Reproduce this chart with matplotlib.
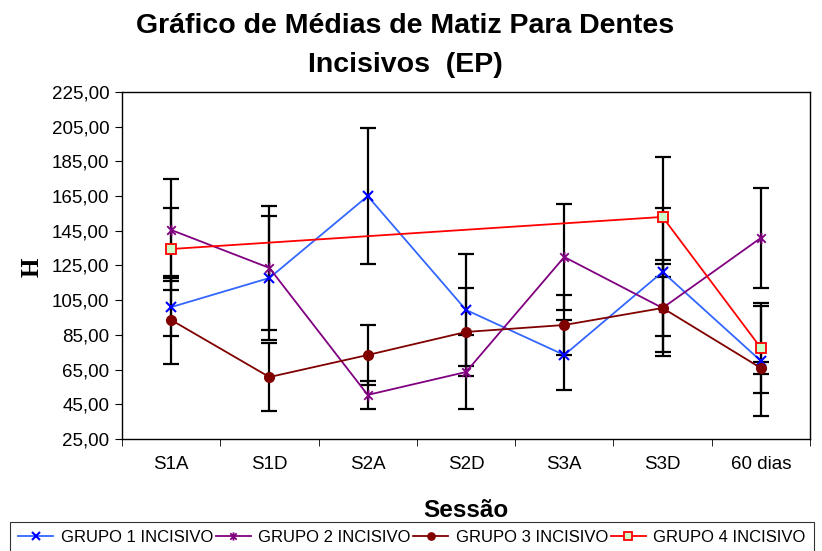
import numpy as np
import matplotlib.pyplot as plt
from matplotlib.path import Path

plt.rcParams['font.family'] = ['Liberation Sans', 'DejaVu Sans']

sessoes = ["S1A", "S1D", "S2A", "S2D", "S3A", "S3D", "60 dias"]

# medias por grupo
g1_media = [101.0, 117.8, 165.0, 99.4, 73.4, 121.3, 70.0]
g2_media = [145.5, 123.6, 50.4, 63.6, 129.9, 100.5, 140.9]
g3_media = [93.6, 60.7, 73.4, 86.7, 90.7, 100.5, 65.9]
g4_media = [134.5, np.nan, np.nan, np.nan, np.nan, 153.0, 77.5]

# erro padrao (EP)
g1_ep = [16.8, 35.7, 39.4, 32.2, 20.2, 37.0, 31.5]
g2_ep = [29.5, 35.5, 8.3, 21.5, 30.7, 27.7, 28.6]
g3_ep = [25.2, 19.6, 17.5, 25.5, 17.5, 25.5, 3.5]
g4_ep = [23.8, np.nan, np.nan, np.nan, np.nan, 34.4, 26.0]

# asterisco estilo excel: x com linha vertical
star = Path([(-1, -1), (1, 1), (-1, 1), (1, -1), (0, -1.3), (0, 1.3)],
            [Path.MOVETO, Path.LINETO, Path.MOVETO, Path.LINETO, Path.MOVETO, Path.LINETO])

grupos = [
    ("GRUPO 1 INCISIVO", g1_media, g1_ep, dict(color="#3366FF", marker="x", ms=7, mec="#0000FF", mew=1.5, mfc="#0000FF")),
    ("GRUPO 2 INCISIVO", g2_media, g2_ep, dict(color="#800080", marker=star, ms=8, mec="#800080", mew=1.3)),
    ("GRUPO 3 INCISIVO", g3_media, g3_ep, dict(color="#800000", marker="o", ms=7, mec="#800000", mfc="#800000")),
    ("GRUPO 4 INCISIVO", g4_media, g4_ep, dict(color="#FF0000", marker="s", ms=7, mec="#FF0000", mfc="#CCFFCC", mew=1.3)),
]

fig = plt.figure(figsize=(8.22, 5.51), dpi=100)
ax = fig.add_axes([0.1484, 0.2033, 0.837, 0.6297])

xs = np.arange(len(sessoes))
for nome, media, ep, estilo in grupos:
    m = np.array(media, dtype=float)
    e = np.array(ep, dtype=float)
    ok = ~np.isnan(m)
    ax.errorbar(xs[ok], m[ok], yerr=e[ok], fmt="none", ecolor="black",
                elinewidth=1.6, capsize=5.5, capthick=1.6, zorder=2)
    ax.plot(xs[ok], m[ok], lw=1.3, label=nome, zorder=3, **estilo)

ax.set_xlim(-0.5, len(sessoes) - 0.5)
ax.set_ylim(25, 225)
yt = np.arange(25, 226, 20)
ax.set_yticks(yt)
ax.set_yticklabels([f"{v:.2f}".replace(".", ",") for v in yt], fontsize=13.5)
ax.set_xticks(xs)
ax.set_xticklabels(sessoes, fontsize=13.5)
ax.set_xticks(np.arange(-0.5, len(sessoes)), minor=True)
ax.tick_params(axis="x", which="major", length=0, pad=12)
ax.tick_params(axis="x", which="minor", length=5, direction="out")
ax.tick_params(axis="y", length=5, direction="out", pad=4)
for s in ax.spines.values():
    s.set_linewidth(1.0)

ax.set_xlabel("Sessão", fontsize=17.5, fontweight="bold", va="center")
ax.xaxis.set_label_coords(0.5, -0.205)
ax.set_ylabel("H", fontsize=18, fontweight="bold", family=["Liberation Serif", "DejaVu Serif"], va="center")
ax.yaxis.set_label_coords(-0.13, 0.496)

fig.text(0.493, 1 - 26 / 551, "Gráfico de Médias de Matiz Para Dentes", ha="center", va="center",
         fontsize=20.5, fontweight="bold")
fig.text(0.493, 1 - 65 / 551, "Incisivos  (EP)", ha="center", va="center",
         fontsize=20.5, fontweight="bold")

leg = fig.legend(loc="upper left", bbox_to_anchor=(10 / 822, 1 - 522 / 551), ncol=4, fontsize=12,
                 frameon=True, fancybox=False, edgecolor="black", borderpad=0.5, borderaxespad=0,
                 handlelength=2.1, handletextpad=0.45, columnspacing=0.15, markerscale=0.75)
leg.get_frame().set_linewidth(0.8)

fig.savefig("out.png", dpi=100)
